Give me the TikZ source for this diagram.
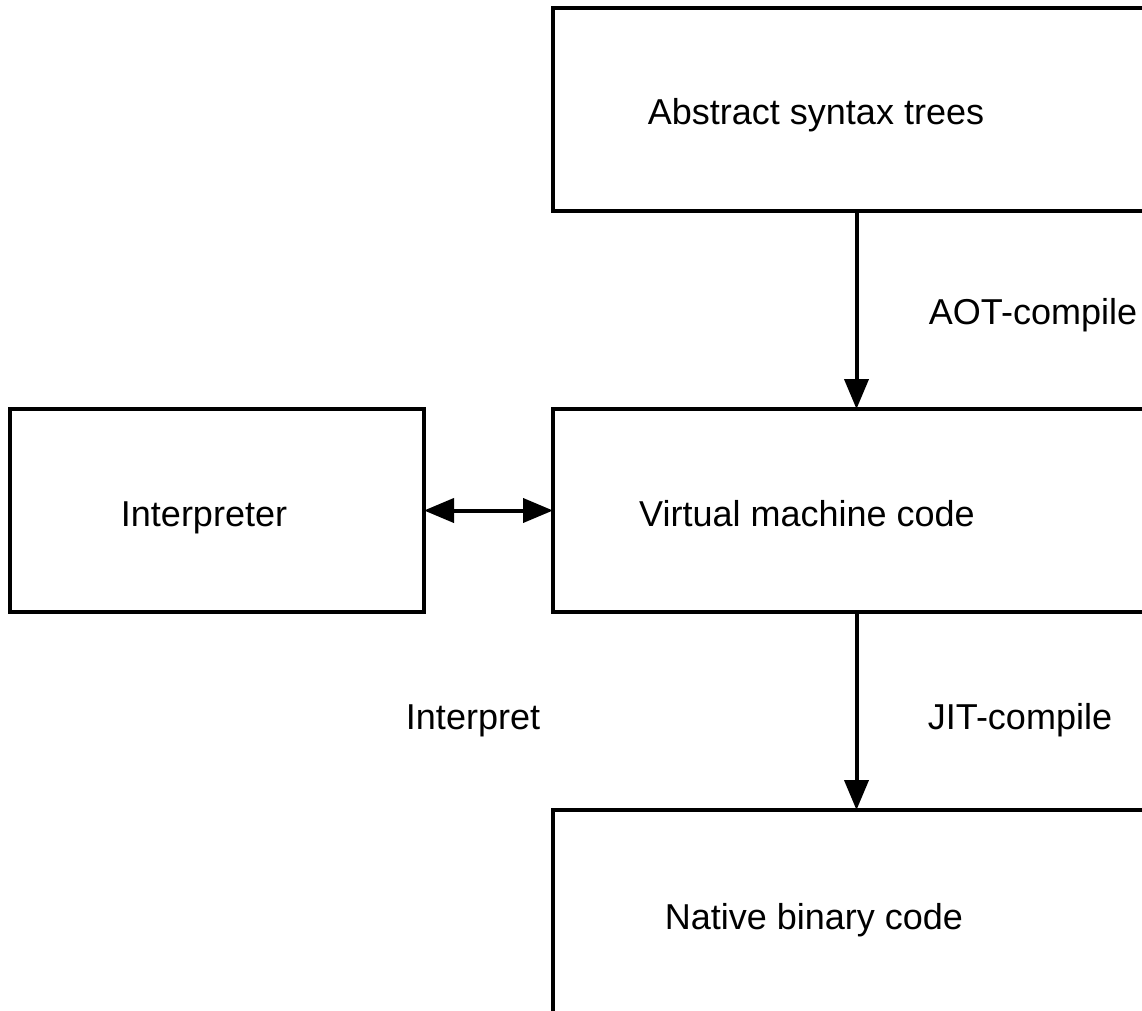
\documentclass[tikz,border=0pt]{standalone}
\usepackage{fontspec}
\setmainfont{Liberation Sans}
\usetikzlibrary{arrows.meta,positioning}

\begin{document}
\begin{tikzpicture}[
  x=0.5pt,y=-0.5pt,
  font=\fontsize{18}{21}\selectfont,
  node distance=99pt,
  block/.style={rectangle,draw,line width=2pt,outer sep=0pt,
                minimum width=303.5pt,minimum height=101.5pt},
  lbl/.style={anchor=base,inner sep=0pt},
  edge/.style={-{Triangle[length=15pt,width=12pt]},line width=2pt},
  dedge/.style={{Triangle[length=15pt,width=12pt]}-{Triangle[length=15pt,width=12pt]},line width=2pt}]
\useasboundingbox (0,0) rectangle (1142,1011);
\clip (0,0) rectangle (1142,1011);
\node[block] (ast) at (856.5,109.5) {};
\node[block,below=of ast] (vm) {};
\node[block,below=of vm] (native) {};
\node[block,minimum width=207pt,left=64.5pt of vm] (interp) {};
\draw[edge] (ast)--(vm);
\draw[edge] (vm)--(native);
\draw[dedge] (interp)--(vm);
\node[lbl] (astlbl) at (816,125) {Abstract syntax trees};
\node[lbl] (vmlbl) at (807,526) {Virtual machine code};
\node[lbl] (nativelbl) at (814,929) {Native binary code};
\node[lbl] (interplbl) at (204,526) {Interpreter};
\node[lbl] (aot) at (1033,324) {AOT-compile};
\node[lbl] (jit) at (1020,729) {JIT-compile};
\node[lbl] (interpret) at (473,729) {Interpret};
\end{tikzpicture}
\end{document}
